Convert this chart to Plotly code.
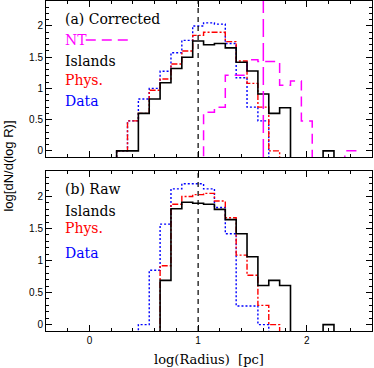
import plotly.graph_objects as go
from plotly.subplots import make_subplots

# ---------------- data ----------------
bin_width = 0.1
bins = [0.3, 0.4, 0.5, 0.6, 0.7, 0.8, 0.9, 1.0, 1.1, 1.2, 1.3,
        1.4, 1.5, 1.6, 1.7, 1.8, 1.9, 2.0, 2.1, 2.2, 2.3, 2.4]

# panel (a) Corrected
a_islands = [0, 0, 0.60, 0.83, 1.09, 1.32, 1.50, 1.76, 1.70, 1.72, 1.65,
             1.42, 1.28, 0.91, 0.60, 0.69, None, None, None, 0, None, None]
a_phys = [0, 0.48, 0.60, 0.97, 1.15, 1.39, 1.60, 1.85, 1.90, 1.90, 1.75,
          1.44, 1.08, 0.70, 0, None, None, None, None, None, None, None]
a_data = [0, 0.48, 0.83, 1.00, 1.275, 1.57, 1.77, 2.00, 2.05, 2.03, 1.72,
          1.17, 0.70, 0.48, None, None, None, None, None, None, None, None]
a_nt = [None, None, None, None, None, None, None, None, 0.62, 0.70, 1.21,
        1.21, 1.46, 1.43, 1.43, 1.05, 1.12, 0.48, None, None, None, 0]

# panel (b) Raw
b_islands = [None, None, None, None, 0.69, 1.81, 1.91, 1.895, 1.88, 1.80, 1.64,
             1.42, 1.06, 0.61, 0.69, 0.61, None, None, None, 0, None, None]
b_phys = [None, None, None, None, 0.92, 1.88, 2.00, 2.03, 2.05, 1.93, 1.67,
          1.085, 0.77, 0.30, 0, None, None, None, None, None, None, None]
b_data = [None, None, 0, 0.85, 1.57, 2.12, 2.20, 2.20, 2.12, 1.83, 1.42,
          0.29, 0.29, 0, None, None, None, None, None, None, None, None]

ref_logr = 1.0       # vertical dashed reference line (both panels)
nt_limit_logr = 1.6  # magenta limit line (panel a)

x_range = [-0.4, 2.6]
y_range = [-0.1, 2.4]
x_ticks = [0, 1, 2]
y_ticks = [0, 0.5, 1, 1.5, 2]

FLOOR = -1.0


def steps(vals):
    xs = [bins[0] - bin_width / 2]
    ys = [FLOOR]
    for c, v in zip(bins, vals):
        xs.append(c - bin_width / 2)
        ys.append(FLOOR if v is None else v)
    xs.append(bins[-1] + bin_width / 2)
    ys.append(FLOOR)
    return xs, ys


fig = make_subplots(rows=2, cols=1, shared_xaxes=True)

styles = {
    "Islands": dict(color="black", width=1.6, dash="solid"),
    "Phys.": dict(color="#ff0000", width=1.4, dash="6px,2px,2px,2px"),
    "Data": dict(color="#0000ff", width=1.4, dash="2px,2px"),
    "NT": dict(color="#ff00ff", width=1.5, dash="10px,6px"),
}

panel_a = [("Data", a_data), ("Phys.", a_phys), ("NT", a_nt), ("Islands", a_islands)]
panel_b = [("Data", b_data), ("Phys.", b_phys), ("Islands", b_islands)]

for row, series in ((1, panel_a), (2, panel_b)):
    for name, vals in series:
        xs, ys = steps(vals)
        fig.add_trace(go.Scatter(x=xs, y=ys, mode="lines", line_shape="hv",
                                 line=styles[name], name=name, showlegend=False,
                                 hoverinfo="skip"), row=row, col=1)

# reference lines
for xr, yr in (("x", "y"), ("x2", "y2")):
    fig.add_shape(type="line", xref=xr, yref=yr + " domain",
                  x0=ref_logr, x1=ref_logr, y0=0, y1=1,
                  line=dict(color="black", width=1.2, dash="5px,4px"))
fig.add_shape(type="line", xref="x", yref="y domain",
              x0=nt_limit_logr, x1=nt_limit_logr, y0=0, y1=1,
              line=dict(color="#ff00ff", width=1.5, dash="18px,6px"))

serif = "DejaVu Serif"
sans = "Liberation Sans"

axis_common = dict(showline=True, linecolor="black", linewidth=1, mirror="allticks",
                   ticks="inside", ticklen=6, tickcolor="black", tickwidth=1,
                   showgrid=False, zeroline=False,
                   tickfont=dict(family=sans, size=10, color="black"))

fig.update_xaxes(range=x_range, tickvals=x_ticks,
                 minor=dict(ticks="inside", dtick=0.2, tick0=0, ticklen=3,
                            tickcolor="black", showgrid=False),
                 **axis_common)
fig.update_xaxes(showticklabels=False, row=1, col=1)
fig.update_yaxes(range=y_range, tickvals=y_ticks,
                 minor=dict(ticks="inside", dtick=0.1, tick0=0, ticklen=3,
                            tickcolor="black", showgrid=False),
                 **axis_common)

fig.update_layout(
    width=374, height=368,
    margin=dict(l=46, r=2, t=1, b=37),
    paper_bgcolor="white", plot_bgcolor="white",
    xaxis=dict(domain=[0, 1]), xaxis2=dict(domain=[0, 1]),
    yaxis=dict(domain=[0.527, 1.0]),
    yaxis2=dict(domain=[0.0, 0.485]),
)


def label(text, xd, yd, color, xref, yref):
    fig.add_annotation(text=text, xref=xref, yref=yref, x=xd, y=yd,
                       xanchor="left", yanchor="middle", showarrow=False,
                       font=dict(family=serif, size=14, color=color))


# panel (a) labels
label("(a) Corrected", 0.052, 0.885, "black", "x domain", "y domain")
label("NT", 0.052, 0.75, "#ff00ff", "x domain", "y domain")
label("Islands", 0.052, 0.615, "black", "x domain", "y domain")
label("Phys.", 0.052, 0.494, "#ff0000", "x domain", "y domain")
label("Data", 0.052, 0.359, "#0000ff", "x domain", "y domain")
# panel (b) labels
label("(b) Raw", 0.052, 0.887, "black", "x2 domain", "y2 domain")
label("Islands", 0.052, 0.751, "black", "x2 domain", "y2 domain")
label("Phys.", 0.052, 0.641, "#ff0000", "x2 domain", "y2 domain")
label("Data", 0.052, 0.49, "#0000ff", "x2 domain", "y2 domain")

# NT legend line sample
fig.add_shape(type="line", xref="x domain", yref="y domain",
              x0=0.122, x1=0.252, y0=0.75, y1=0.75,
              line=dict(color="#ff00ff", width=1.5, dash="10px,6px"))

# axis titles
fig.add_annotation(text="log(Radius)  [pc]", xref="paper", yref="paper",
                   x=0.5, y=-0.085, xanchor="center", yanchor="middle", showarrow=False,
                   borderpad=0,
                   font=dict(family=serif, size=13, color="black"))
fig.add_annotation(text="log[dN/d(log R)]", xref="paper", yref="paper",
                   x=-0.118, y=0.5, xanchor="center", yanchor="middle", showarrow=False,
                   textangle=-90, font=dict(family=sans, size=13, color="black"))

fig.write_html("out.html", config={"displayModeBar": False})
with open("out.html", "r", encoding="utf-8") as f:
    html = f.read()
html = html.replace("<body>", '<body style="margin:0;padding:0;">', 1)
with open("out.html", "w", encoding="utf-8") as f:
    f.write(html)
